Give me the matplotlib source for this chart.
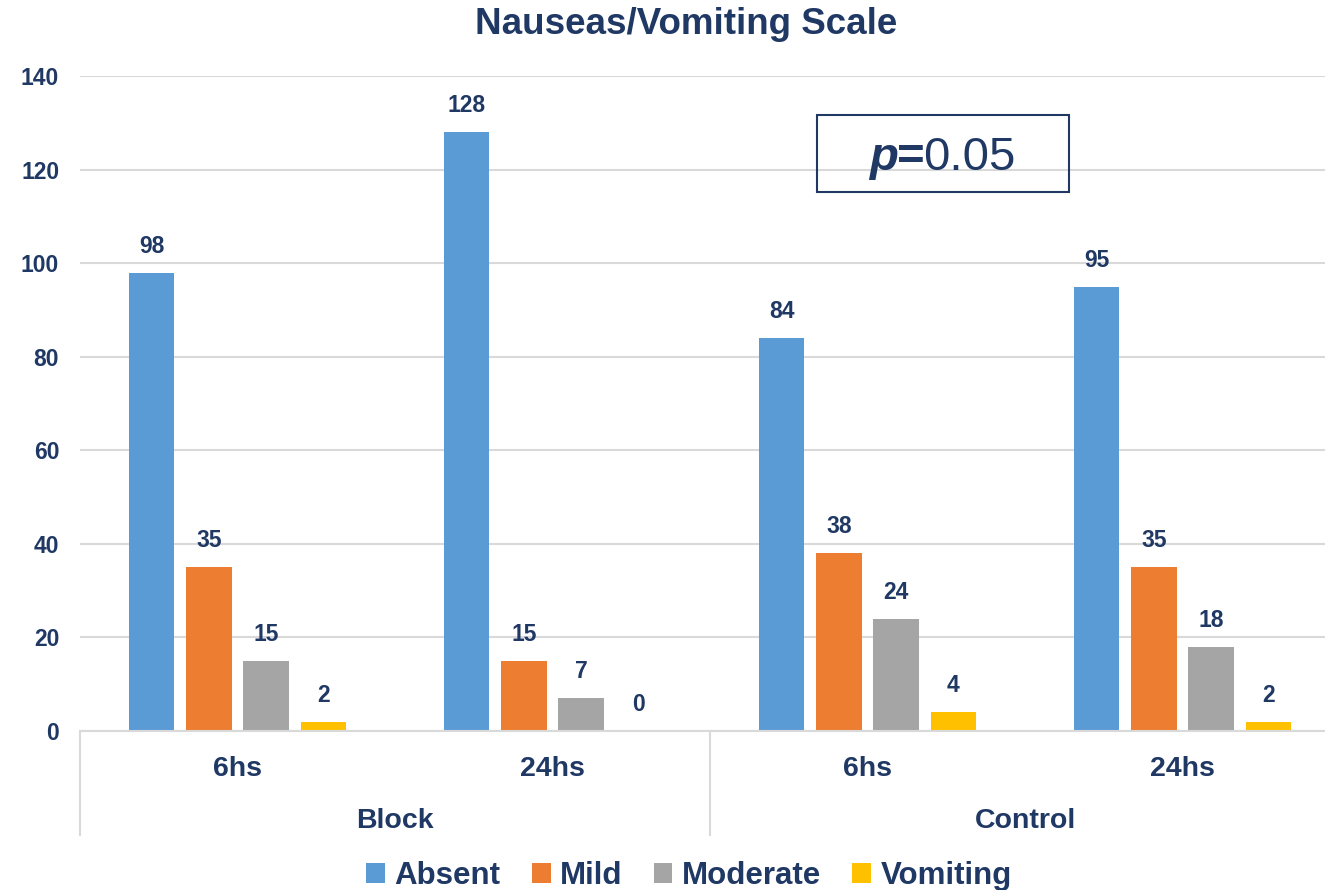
import matplotlib
matplotlib.use("Agg")
import matplotlib.pyplot as plt
from matplotlib.patches import Patch, Rectangle
import numpy as np

plt.rcParams["font.family"] = ["Liberation Sans", "DejaVu Sans"]

# data
groups   = ["Block", "Control"]
times    = ["6hs", "24hs", "6hs", "24hs"]
series   = ["Absent", "Mild", "Moderate", "Vomiting"]
absent   = [98, 128, 84, 95]
mild     = [35, 15, 38, 35]
moderate = [15, 7, 24, 18]
vomiting = [2, 0, 4, 2]

COLORS = ["#5B9BD5", "#ED7D31", "#A5A5A5", "#FFC000"]
NAVY   = "#1F3864"
GRID   = "#D9D9D9"

fig = plt.figure(figsize=(13.25, 8.9), dpi=100)
ax = fig.add_axes([80/1325, 1 - 731/890, 1 - 80/1325, (731 - 76)/890])

x = np.arange(len(times))
w = 0.143
offsets = [-0.272, -0.0905, 0.0905, 0.272]
values = [absent, mild, moderate, vomiting]

for vals, off, col, name in zip(values, offsets, COLORS, series):
    bars = ax.bar(x + off, vals, width=w, color=col, label=name, zorder=3)
    for b, v in zip(bars, vals):
        ax.annotate(f"{v}", (b.get_x() + b.get_width()/2, v),
                    xytext=(0, 19), textcoords="offset points",
                    ha="center", va="center", fontsize=16.5,
                    fontweight="bold", color=NAVY)

ax.set_xlim(-0.5, -0.5 + (1325 - 80)/315)
ax.set_ylim(0, 140)
ax.set_yticks(range(0, 141, 20))
ax.tick_params(axis="y", length=0, pad=15, labelsize=16.5, labelcolor=NAVY)
for lab in ax.get_yticklabels():
    lab.set_fontweight("bold")
ax.set_xticks([])
ax.grid(True, axis="y", color=GRID, linewidth=1.5, zorder=0)
for s in ["top", "right", "left"]:
    ax.spines[s].set_visible(False)
ax.spines["bottom"].set_color(GRID)
ax.spines["bottom"].set_linewidth(1.5)
ax.spines["bottom"].set_zorder(4)

# two-level category axis
trans = ax.get_xaxis_transform()
for xi, t in zip(x, times):
    ax.text(xi, -0.058, t, transform=trans, ha="center", va="center",
            fontsize=20.5, fontweight="bold", color=NAVY)
for gi, g in enumerate(groups):
    ax.text(gi*2 + 0.5, -0.138, g, transform=trans, ha="center", va="center",
            fontsize=20.5, fontweight="bold", color=NAVY)
for sx in [-0.5, 1.5, 3.5]:
    ax.plot([sx, sx], [0, -0.159], transform=trans, color=GRID,
            linewidth=1.5, clip_on=False)

fig.text(0.518, 1 - 25/890, "Nauseas/Vomiting Scale", ha="center", va="center",
         fontsize=26.5, fontweight="bold", color=NAVY)

# p-value box
fig.patches.append(Rectangle((817/1325, 1 - 192/890), 252/1325, 77/890,
                             transform=fig.transFigure, fill=False,
                             edgecolor=NAVY, linewidth=1.5))
fig.text(898/1325, 1 - 158/890, "p", ha="right", va="center", fontsize=34,
         fontweight="bold", fontstyle="italic", color=NAVY)
fig.text(897/1325, 1 - 158/890, "=", ha="left", va="center", fontsize=34,
         fontweight="bold", color=NAVY)
fig.text(923/1325, 1 - 158/890, "0.05", ha="left", va="center", fontsize=34,
         color=NAVY)

handles = [Patch(facecolor=c, label=n) for c, n in zip(COLORS, series)]
leg = fig.legend(handles=handles, loc="center", bbox_to_anchor=(0.52, 1 - 876/890),
                 ncol=4, frameon=False, fontsize=22.5, handlelength=0.6,
                 handleheight=0.6, handletextpad=0.3, columnspacing=1.0,
                 borderaxespad=0)
for t in leg.get_texts():
    t.set_color(NAVY)
    t.set_fontweight("bold")

fig.savefig("out.png", dpi=100)
